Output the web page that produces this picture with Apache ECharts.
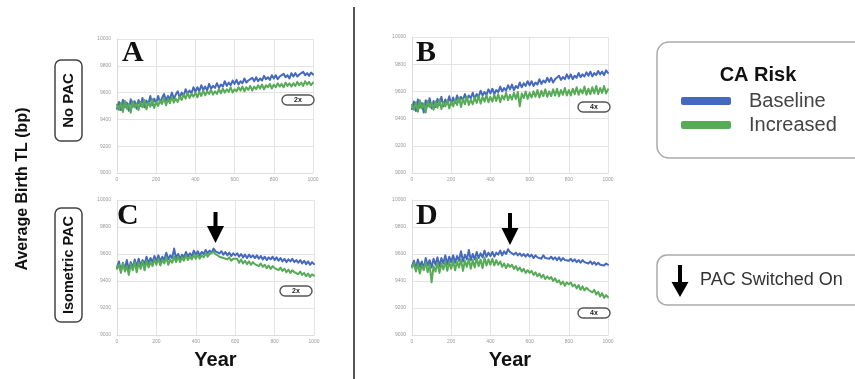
<!DOCTYPE html>
<html><head><meta charset="utf-8">
<script src="https://cdn.jsdelivr.net/npm/echarts@6/dist/echarts.min.js"></script>
<style>html,body{margin:0;padding:0;background:#fff}#c{width:855px;height:379px}</style>
</head><body><div id="c"></div>
<script>
// x positions (years) of the sampled points: 0,10,...,1000
const years = [];
for (let y = 0; y <= 1000; y += 10) years.push(y);

const panelLetters = ['A', 'B', 'C', 'D'];
const panelFactors = ['2x', '4x', '2x', '4x'];
const seriesNames = ['Baseline', 'Increased'];
const pacSwitchYear = 500;

// Panel A (No PAC, 2x)
const aBaseline = [9480,
 9530,9470,9545,9490,9525,9465,9550,9495,9535,9480,
 9545,9500,9560,9490,9540,9515,9575,9505,9555,9520,
 9575,9525,9560,9590,9540,9575,9550,9600,9555,9585,
 9610,9560,9600,9575,9625,9590,9615,9595,9640,9605,
 9640,9610,9655,9620,9645,9615,9665,9630,9650,9635,
 9670,9635,9660,9645,9685,9650,9675,9655,9690,9665,
 9695,9660,9685,9670,9705,9675,9690,9680,9710,9685,
 9715,9685,9705,9690,9725,9700,9715,9695,9730,9705,
 9730,9700,9720,9710,9740,9715,9730,9705,9745,9720,
 9745,9720,9735,9725,9755,9730,9745,9725,9750,9735];
const aIncreased = [9510,
 9470,9525,9455,9540,9480,9515,9450,9535,9490,9520,
 9470,9530,9490,9545,9475,9525,9495,9550,9485,9530,
 9500,9545,9515,9560,9505,9550,9520,9570,9525,9555,
 9530,9570,9545,9585,9555,9600,9560,9590,9570,9600,
 9565,9605,9575,9615,9580,9610,9590,9620,9585,9610,
 9590,9625,9595,9630,9600,9625,9605,9640,9600,9625,
 9610,9640,9615,9645,9610,9640,9620,9650,9615,9645,
 9625,9655,9630,9660,9625,9655,9640,9665,9630,9660,
 9640,9670,9645,9665,9640,9675,9650,9670,9645,9670,
 9650,9680,9655,9675,9650,9685,9660,9680,9655,9675];

// Panel B (No PAC, 4x)
const bBaseline = [9470,
 9525,9455,9540,9480,9515,9445,9535,9490,9550,9475,
 9530,9485,9545,9500,9560,9490,9540,9510,9565,9505,
 9555,9515,9570,9525,9560,9535,9580,9540,9570,9550,
 9590,9545,9580,9560,9605,9570,9595,9575,9615,9585,
 9620,9580,9610,9595,9635,9600,9625,9605,9645,9615,
 9650,9610,9640,9625,9665,9630,9660,9640,9675,9645,
 9675,9640,9665,9650,9690,9655,9680,9665,9700,9670,
 9700,9665,9690,9680,9715,9685,9705,9690,9725,9695,
 9725,9690,9715,9700,9735,9705,9725,9710,9740,9715,
 9745,9710,9735,9720,9750,9725,9745,9720,9755,9735];
const bIncreased = [9500,
 9465,9520,9450,9535,9475,9510,9445,9530,9485,9515,
 9465,9525,9480,9540,9470,9520,9490,9535,9475,9525,
 9490,9540,9500,9555,9485,9545,9505,9560,9500,9540,
 9505,9555,9515,9570,9510,9560,9525,9575,9520,9560,
 9525,9575,9530,9580,9520,9570,9540,9590,9535,9575,
 9540,9590,9545,9595,9490,9585,9550,9600,9545,9590,
 9555,9600,9560,9610,9555,9605,9565,9615,9560,9600,
 9565,9615,9570,9620,9565,9610,9575,9625,9570,9610,
 9570,9620,9580,9630,9575,9615,9585,9635,9575,9620,
 9580,9630,9585,9640,9580,9625,9590,9640,9585,9615];

// Panel C (Isometric PAC, 2x)
const cBaseline = [9500,
 9545,9475,9530,9490,9555,9480,9540,9500,9560,9505,
 9565,9515,9555,9525,9580,9530,9570,9540,9585,9545,
 9590,9545,9580,9555,9610,9560,9590,9570,9640,9565,
 9600,9565,9595,9575,9615,9580,9605,9585,9625,9595,
 9620,9590,9615,9600,9630,9605,9625,9610,9640,9620,
 9630,9605,9620,9595,9615,9590,9610,9585,9605,9590,
 9605,9580,9600,9575,9595,9570,9595,9575,9590,9570,
 9590,9565,9585,9560,9580,9555,9575,9560,9580,9555,
 9575,9550,9570,9545,9565,9540,9560,9545,9565,9540,
 9555,9535,9555,9530,9550,9525,9545,9520,9540,9525];
const cIncreased = [9490,
 9520,9460,9535,9470,9510,9445,9525,9480,9540,9465,
 9535,9490,9545,9480,9550,9500,9540,9510,9560,9520,
 9565,9515,9555,9530,9575,9520,9560,9535,9580,9540,
 9580,9540,9575,9550,9590,9555,9580,9560,9595,9565,
 9595,9565,9590,9575,9605,9580,9600,9590,9615,9600,
 9595,9580,9590,9570,9580,9560,9575,9550,9565,9555,
 9565,9535,9560,9530,9550,9525,9545,9520,9540,9525,
 9535,9510,9530,9505,9520,9495,9515,9490,9510,9495,
 9505,9480,9500,9475,9490,9465,9485,9460,9480,9465,
 9475,9450,9470,9445,9460,9435,9455,9430,9450,9440];

// Panel D (Isometric PAC, 4x)
const dBaseline = [9510,
 9550,9495,9560,9505,9545,9490,9570,9515,9555,9500,
 9565,9520,9575,9510,9570,9530,9590,9525,9580,9540,
 9590,9535,9585,9550,9620,9545,9595,9560,9630,9555,
 9600,9560,9615,9570,9605,9575,9625,9580,9610,9585,
 9615,9580,9610,9595,9625,9590,9620,9600,9635,9615,
 9620,9595,9610,9590,9605,9585,9600,9580,9600,9580,
 9595,9570,9590,9575,9585,9565,9590,9570,9580,9565,
 9580,9560,9575,9555,9575,9550,9570,9555,9565,9550,
 9565,9545,9560,9540,9555,9535,9555,9540,9550,9530,
 9545,9525,9540,9520,9535,9520,9530,9515,9530,9520];
const dIncreased = [9500,
 9530,9470,9525,9455,9515,9480,9540,9465,9520,9390,
 9510,9470,9535,9460,9530,9485,9545,9475,9540,9490,
 9550,9480,9545,9500,9560,9475,9550,9505,9565,9490,
 9555,9500,9570,9510,9560,9495,9575,9515,9560,9520,
 9565,9515,9555,9520,9545,9505,9530,9495,9525,9505,
 9520,9490,9510,9480,9500,9470,9490,9460,9480,9460,
 9475,9445,9465,9435,9455,9425,9445,9415,9435,9415,
 9430,9400,9420,9390,9405,9375,9395,9365,9390,9375,
 9390,9360,9375,9345,9370,9335,9360,9330,9350,9335,
 9345,9315,9335,9300,9320,9285,9310,9275,9295,9280];

const panelData = [[aBaseline, aIncreased], [bBaseline, bIncreased], [cBaseline, cIncreased], [dBaseline, dIncreased]];
const colors = ['#4469bd', '#57ab57'];

const gridPos = [
  {left: 117, top: 39, width: 196, height: 134},
  {left: 412, top: 37, width: 196, height: 136},
  {left: 117, top: 200, width: 197, height: 135},
  {left: 412, top: 200, width: 196, height: 135}
];

const chart = echarts.init(document.getElementById('c'), null, {renderer: 'canvas'});

const grids = gridPos.map(g => Object.assign({containLabel: false}, g));
const xAxes = gridPos.map((g, i) => ({
  type: 'value', gridIndex: i, min: 0, max: 1000, interval: 200,
  axisLine: {show: true, lineStyle: {color: '#dcdcdc'}},
  axisTick: {show: false},
  splitLine: {show: true, lineStyle: {color: '#e4e4e4', width: 1}},
  axisLabel: {fontSize: 5, color: '#999', margin: 4, formatter: v => String(v)}
}));
const yAxes = gridPos.map((g, i) => ({
  type: 'value', gridIndex: i, min: 9000, max: 10000, interval: 200,
  axisLine: {show: true, lineStyle: {color: '#dcdcdc'}},
  axisTick: {show: false},
  splitLine: {show: true, lineStyle: {color: '#e4e4e4', width: 1}},
  axisLabel: {fontSize: 5, color: '#999', margin: 6, formatter: v => String(v)}
}));

const series = [];
panelData.forEach((pair, i) => {
  pair.forEach((vals, k) => {
    series.push({
      name: seriesNames[k], type: 'line', xAxisIndex: i, yAxisIndex: i,
      showSymbol: false, symbol: 'none', animation: false,
      lineStyle: {width: 2, color: colors[k], join: 'round', cap: 'round'}, itemStyle: {color: colors[k]},
      data: years.map((x, j) => [x, vals[j]])
    });
  });
});

chart.setOption({
  animation: false,
  backgroundColor: '#fff',
  grid: grids, xAxis: xAxes, yAxis: yAxes, series: series,
  legend: {
    data: seriesNames, orient: 'vertical', left: 676, top: 86,
    icon: 'roundRect', itemWidth: 50, itemHeight: 8, itemGap: 4,
    selectedMode: false,
    textStyle: {fontSize: 20, color: '#444', fontFamily: 'Liberation Sans, Arial, sans-serif', padding: [0, 0, 0, 13]}
  }
});

// Annotations
const g = [];
const sans = 'Liberation Sans, Arial, sans-serif';
const serif = 'Liberation Serif, Times New Roman, serif';

// divider
g.push({type: 'line', shape: {x1: 354, y1: 7, x2: 354, y2: 379}, style: {stroke: '#555', lineWidth: 2}, z: 10});

// y title
g.push({type: 'text', x: 23, y: 189, rotation: Math.PI / 2,
  style: {text: 'Average Birth TL (bp)', font: 'bold 16px ' + sans, fill: '#111', align: 'center', verticalAlign: 'middle'}});

// row label boxes
[[60, 141, 'No PAC', 15], [208, 322, 'Isometric PAC', 14.5]].forEach(r => {
  g.push({type: 'rect', shape: {x: 55, y: r[0], width: 27, height: r[1] - r[0], r: 6},
    style: {fill: '#fff', stroke: '#444', lineWidth: 1.5}});
  g.push({type: 'text', x: 68.5, y: (r[0] + r[1]) / 2, rotation: Math.PI / 2,
    style: {text: r[2], font: 'bold ' + r[3] + 'px ' + sans, fill: '#111', align: 'center', verticalAlign: 'middle'}});
});

// panel letters
const letterPos = [[122, 53], [416, 53], [117, 216], [416, 216]];
panelLetters.forEach((L, i) => {
  g.push({type: 'text', x: letterPos[i][0], y: letterPos[i][1],
    style: {text: L, font: 'bold 30px ' + serif, fill: '#111', align: 'left', verticalAlign: 'middle'}, z: 20});
});

// factor badges
const badgePos = [[282, 95], [578, 102], [280, 286], [578, 308]];
panelFactors.forEach((t, i) => {
  const [x, y] = badgePos[i];
  g.push({type: 'rect', shape: {x: x, y: y, width: 32, height: 10, r: 5},
    style: {fill: '#fff', stroke: '#555', lineWidth: 1.4}, z: 20});
  g.push({type: 'text', x: x + 16, y: y + 5.5,
    style: {text: t, font: 'bold 7px ' + sans, fill: '#222', align: 'center', verticalAlign: 'middle'}, z: 21});
});

// Year labels
[215.5, 510].forEach(cx => {
  g.push({type: 'text', x: cx, y: 360,
    style: {text: 'Year', font: 'bold 20px ' + sans, fill: '#111', align: 'center', verticalAlign: 'middle'}});
});

// arrows
function arrow(cx, top, headTop, tip, hw) {
  return {type: 'polygon', shape: {points: [
    [cx - 2, top], [cx + 2, top], [cx + 2, headTop], [cx + hw, headTop],
    [cx, tip], [cx - hw, headTop], [cx - 2, headTop]]},
    style: {fill: '#000'}, z: 30};
}
const cX = chart.convertToPixel({gridIndex: 2}, [pacSwitchYear, 9600])[0];
const dX = chart.convertToPixel({gridIndex: 3}, [pacSwitchYear, 9600])[0];
g.push(arrow(cX, 212, 226, 243, 8.5));
g.push(arrow(dX, 213, 228, 245, 8.5));

// legend box
g.push({type: 'rect', shape: {x: 657, y: 42, width: 220, height: 116, r: 12},
  style: {fill: 'none', stroke: '#aaa', lineWidth: 1.5}});
g.push({type: 'text', x: 758, y: 75,
  style: {text: 'CA Risk', font: 'bold 20px ' + sans, fill: '#111', align: 'center', verticalAlign: 'middle'}});

// PAC box
g.push({type: 'rect', shape: {x: 657, y: 255, width: 220, height: 50, r: 10},
  style: {fill: 'none', stroke: '#aaa', lineWidth: 1.5}});
g.push(arrow(680, 265, 282, 297, 8.5));
g.push({type: 'text', x: 700, y: 280,
  style: {text: 'PAC Switched On', font: '18px ' + sans, fill: '#333', align: 'left', verticalAlign: 'middle'}});

chart.setOption({graphic: g});
</script></body></html>
